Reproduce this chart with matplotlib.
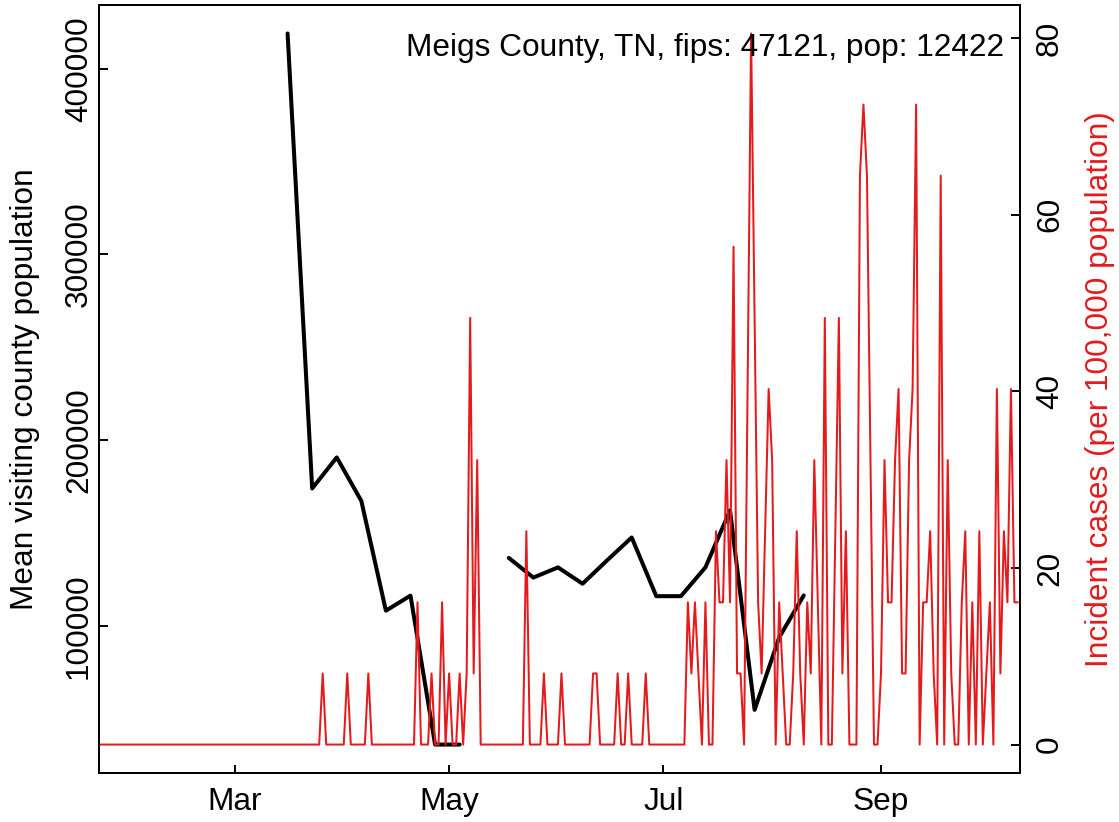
import numpy as np
import pandas as pd
import matplotlib
matplotlib.use("Agg")
from matplotlib import pyplot as plt
import matplotlib.dates as mdates

county = "Meigs County, TN"
fips = 47121
pop = 12422

# daily new cases from 2020-01-22 (10 days per row)
case_start = "2020-01-22"
daily_cases = [
    0, 0, 0, 0, 0, 0, 0, 0, 0, 0,
    0, 0, 0, 0, 0, 0, 0, 0, 0, 0,
    0, 0, 0, 0, 0, 0, 0, 0, 0, 0,
    0, 0, 0, 0, 0, 0, 0, 0, 0, 0,
    0, 0, 0, 0, 0, 0, 0, 0, 0, 0,
    0, 0, 0, 0, 0, 0, 0, 0, 0, 0,
    0, 0, 0, 0, 1, 0, 0, 0, 0, 0,
    0, 1, 0, 0, 0, 0, 0, 1, 0, 0,
    0, 0, 0, 0, 0, 0, 0, 0, 0, 0,
    0, 2, 0, 0, 0, 1, 0, 0, 2, 0,
    1, 0, 0, 1, 0, 1, 6, 1, 4, 0,
    0, 0, 0, 0, 0, 0, 0, 0, 0, 0,
    0, 0, 3, 0, 0, 0, 0, 1, 0, 0,
    0, 0, 1, 0, 0, 0, 0, 0, 0, 0,
    0, 1, 1, 0, 0, 0, 0, 0, 1, 0,
    0, 1, 0, 0, 0, 0, 1, 0, 0, 0,
    0, 0, 0, 0, 0, 0, 0, 0, 2, 1,
    2, 1, 0, 2, 0, 0, 3, 2, 2, 4,
    2, 7, 1, 1, 0, 5, 10, 6, 2, 1,
    3, 5, 4, 0, 2, 1, 0, 0, 1, 3,
    1, 0, 2, 1, 4, 2, 0, 6, 0, 0,
    3, 6, 1, 3, 0, 0, 0, 8, 9, 8,
    4, 0, 0, 1, 4, 2, 2, 4, 5, 1,
    1, 4, 5, 9, 0, 2, 2, 3, 1, 0,
    8, 0, 4, 1, 0, 0, 2, 3, 0, 2,
    0, 3, 0, 1, 2, 0, 5, 1, 3, 2,
    5, 2, 2,
]

# weekly mean visiting county population, mondays from 2020-03-16
visit_start = "2020-03-16"
visit_pop = [419000, 174000, 190700, 167300, 108200, 116300, 36100, 36100,
             np.nan, 136600, 126000, 131500, 122700, 135300, 147600, 116000,
             116000, 131500, 162200, 54800, 93800, 116400]

left_ticks = [100000, 200000, 300000, 400000]
right_ticks = [0, 20, 40, 60, 80]
month_ticks = [3, 5, 7, 9]

plt.rcParams['font.family'] = ['Liberation Sans', 'DejaVu Sans']

case_dates = pd.date_range(case_start, periods=len(daily_cases), freq="D")
incidence = np.array(daily_cases) * 100000 / pop
visit_dates = pd.date_range(visit_start, periods=len(visit_pop), freq="7D")


def padded(lo, hi, f=0.04):
    d = (hi - lo) * f
    return lo - d, hi + d


red = "#E41A1C"
fs = 22.75
W, H = 1119, 822

fig = plt.figure(figsize=(W / 100, H / 100), dpi=100)
ax = fig.add_axes([99 / W, 1 - 773 / H, 921 / W, 768 / H])
ax.plot(visit_dates, visit_pop, color="black", lw=2.9,
        solid_joinstyle="round", solid_capstyle="round")
ax.set_ylim(padded(np.nanmin(visit_pop), np.nanmax(visit_pop)))
ax.set_xlim(case_dates[0] + pd.Timedelta(hours=7),
            case_dates[-1] + pd.Timedelta(hours=14))

ax.xaxis.set_major_locator(mdates.MonthLocator(bymonth=month_ticks))
ax.xaxis.set_major_formatter(mdates.DateFormatter("%b"))
ax.set_yticks(left_ticks)
ax.set_yticklabels([str(v) for v in left_ticks], rotation=90,
                   rotation_mode="anchor", ha="center", va="baseline")
ax.tick_params(axis="y", direction="in", length=6.3, width=1.4,
               labelsize=fs, pad=8.6)
ax.tick_params(axis="x", direction="in", length=6, width=1.4,
               labelsize=fs, pad=26.6)
plt.setp(ax.get_xticklabels(), va="baseline")
for s in ax.spines.values():
    s.set_linewidth(1.4)

ax2 = ax.twinx()
ax2.plot(case_dates, incidence, color=red, lw=1.45,
         solid_joinstyle="round", solid_capstyle="round")
ax2.set_ylim(padded(0, incidence.max()))
ax2.set_yticks(right_ticks)
ax2.set_yticklabels([str(v) for v in right_ticks], rotation=90,
                    rotation_mode="anchor", ha="center", va="baseline")
ax2.tick_params(axis="y", direction="in", length=6.3, width=1.4,
                labelsize=fs, pad=27.4)
for s in ax2.spines.values():
    s.set_linewidth(1.4)

ax2.text(0.9826, 0.933, f"{county}, fips: {fips}, pop: {pop}",
         transform=ax.transAxes, ha="right", va="baseline", fontsize=fs,
         zorder=10)

ymid = 1 - 389 / H
fig.text(33 / W, ymid, "Mean visiting county population", rotation=90,
         rotation_mode="anchor", ha="center", va="baseline", fontsize=fs)
fig.text(1108 / W, ymid, "Incident cases (per 100,000 population)",
         rotation=90, rotation_mode="anchor", ha="center", va="baseline",
         fontsize=fs, color=red)

fig.savefig("out.png", dpi=100)
